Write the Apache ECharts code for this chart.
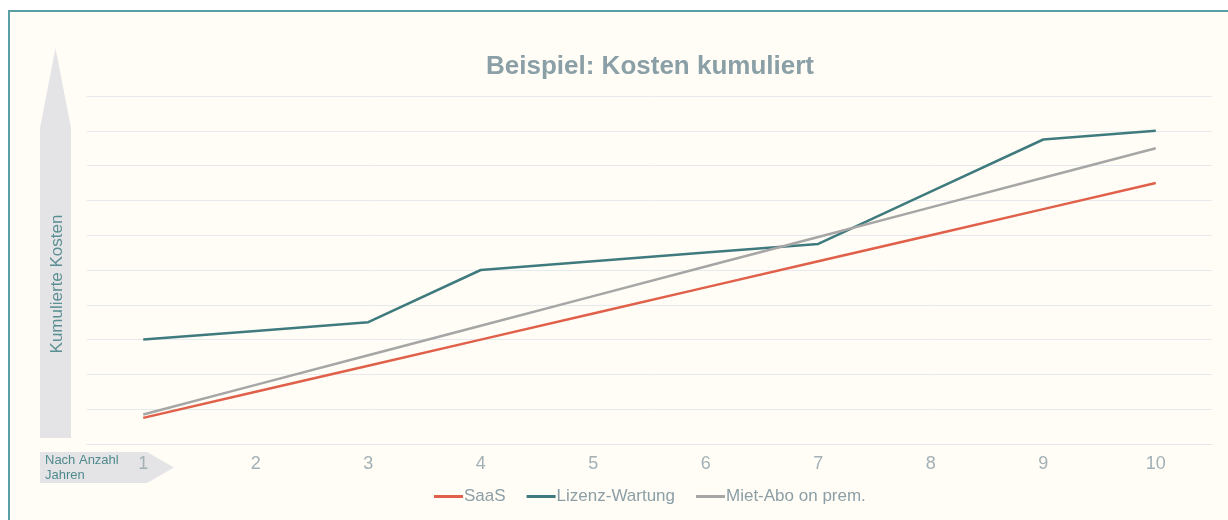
<!DOCTYPE html>
<html>
<head>
<meta charset="utf-8">
<script src="https://cdn.jsdelivr.net/npm/echarts@6/dist/echarts.min.js"></script>
<style>
html,body{margin:0;padding:0;background:#ffffff;}
#chart{width:1228px;height:520px;}
</style>
</head>
<body>
<div id="chart"></div>
<script>
const categories = ['1','2','3','4','5','6','7','8','9','10'];
const saas = [7.5, 15, 22.5, 30, 37.5, 45, 52.5, 60, 67.5, 75];
const lizenzWartung = [30, 32.5, 35, 50, 52.5, 55, 57.5, 72.5, 87.5, 90];
const mietAbo = [8.5, 17, 25.5, 34, 42.5, 51, 59.5, 68, 76.5, 85];
const seriesNames = ['SaaS', 'Lizenz-Wartung', 'Miet-Abo on prem.'];
const yAxisTitle = 'Kumulierte Kosten';
const xAxisTitle = 'Nach Anzahl\nJahren';

const chart = echarts.init(document.getElementById('chart'));
const font = '"Liberation Sans", Arial, sans-serif';
chart.setOption({
  backgroundColor: '#ffffff',
  animation: false,
  title: {
    text: 'Beispiel: Kosten kumuliert',
    left: 645, textAlign: 'center', top: 49,
    textStyle: { fontFamily: font, fontSize: 26, fontWeight: 'bold', color: '#8a9fa6' }
  },
  legend: {
    data: seriesNames,
    top: 483, left: 429,
    icon: 'rect', itemWidth: 29, itemHeight: 3, itemGap: 21,
    textStyle: { fontFamily: font, fontSize: 17, color: '#8c9ea6', padding: [0, 0, 0, -4] }
  },
  grid: { left: 87, right: 16, top: 96, bottom: 76, containLabel: false },
  xAxis: {
    type: 'category', data: categories, boundaryGap: true,
    axisLine: { show: true, lineStyle: { color: '#e3e7ea', width: 1 } },
    axisTick: { show: false },
    axisLabel: { fontFamily: font, fontSize: 18, color: '#a3b0b6', margin: 11 }
  },
  yAxis: {
    type: 'value', min: 0, max: 100, interval: 10,
    axisLine: { show: false }, axisTick: { show: false }, axisLabel: { show: false },
    splitLine: { lineStyle: { color: '#e6eaee', width: 1 } }
  },
  graphic: [
    { type: 'rect', z: -10, shape: { x: 9, y: 11, width: 1240, height: 540 },
      style: { fill: '#fffdf6', stroke: '#5a9fa3', lineWidth: 2 } },
    { type: 'polygon', z: -5, shape: { points: [[40,438],[40,128],[55.5,48],[71,128],[71,438]] },
      style: { fill: '#e4e4e6' } },
    { type: 'text', z: 1, x: 57, y: 284, rotation: Math.PI / 2,
      style: { text: yAxisTitle, fontFamily: font, fontSize: 17, fill: '#5b8f93', align: 'center', verticalAlign: 'middle' } },
    { type: 'polygon', z: -5, shape: { points: [[40,452],[147,452],[174,467.5],[147,483],[40,483]] },
      style: { fill: '#e4e4e6' } },
    { type: 'text', z: 1, x: 45, y: 467.5,
      style: { text: xAxisTitle, fontFamily: font, fontSize: 13, lineHeight: 15, fill: '#4f8a8e', align: 'left', verticalAlign: 'middle' } }
  ],
  series: [
    { name: seriesNames[0], type: 'line', data: saas, symbol: 'none', lineStyle: { color: '#e0604a', width: 2.5 }, itemStyle: { color: '#e0604a' } },
    { name: seriesNames[1], type: 'line', data: lizenzWartung, symbol: 'none', lineStyle: { color: '#3f7b7e', width: 2.5 }, itemStyle: { color: '#3f7b7e' } },
    { name: seriesNames[2], type: 'line', data: mietAbo, symbol: 'none', lineStyle: { color: '#a6a6a6', width: 2.5 }, itemStyle: { color: '#a6a6a6' } }
  ]
});
</script>
</body>
</html>
